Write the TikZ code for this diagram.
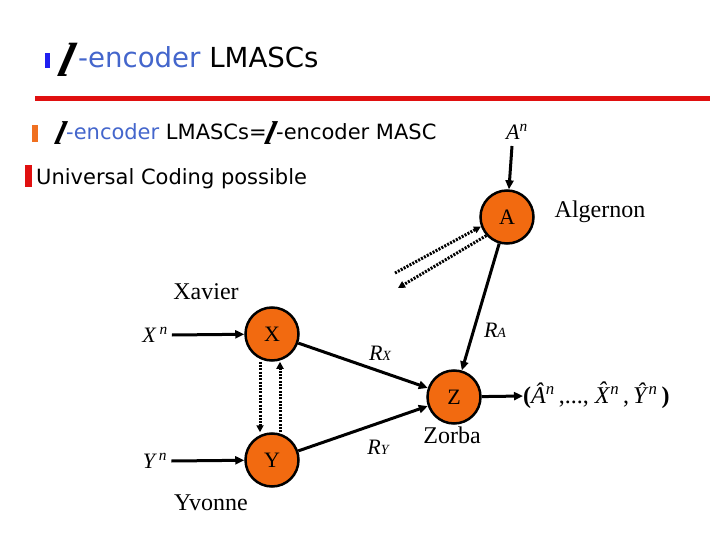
\documentclass[tikz,border=0pt]{standalone}
\usepackage{fontspec}
\setmainfont{Liberation Serif}
\newfontfamily\tah{DejaVu Sans}
\usetikzlibrary{arrows.meta}
\definecolor{orng}{HTML}{F26A10}
\definecolor{tblue}{HTML}{4466CC}
\definecolor{bblue}{HTML}{2020F0}
\definecolor{bred}{HTML}{E01010}
\definecolor{bor}{HTML}{F07020}
\newcommand\hatit[1]{\ooalign{\textit{#1}\cr\hidewidth\raisebox{0.2em}{\textit{\char"02C6}}\hidewidth\cr}}
\begin{document}
\begin{tikzpicture}[x=1pt,y=-1pt,
 party/.style={circle,draw=black,line width=2.5pt,fill=orng,minimum size=53pt,inner sep=0pt,font=\fontsize{22}{26}\selectfont},
 link/.style={line width=3pt,-{Triangle[length=9pt,width=8pt]}},
 dotl/.style={line width=3pt,dash pattern=on 2pt off 1.3pt,-{Triangle[length=7pt,width=7pt]}},
 lbl/.style={inner sep=0pt,font=\fontsize{24}{28}\selectfont},
 ml/.style={inner sep=0pt,font=\fontsize{22}{26}\selectfont\itshape},
 ell/.style={inner sep=0pt,anchor=base}]
\useasboundingbox (0,0) rectangle (720,540);
% title
\fill[bblue] (45,53) rectangle (50,68);
\node[ell,font=\fontsize{48}{48}\selectfont\bfseries\itshape,xslant=0.25] (l1) at (63,77) {l};
\node[anchor=base west,inner sep=0pt] (title) at (78,68) {\tah\fontsize{27.6}{32}\selectfont\color{tblue}-encoder \color{black}LMASCs};
\fill[bred] (35,96) rectangle (710,101);
% line 2
\fill[bor] (32,125) rectangle (38,142);
\node[ell,font=\fontsize{33}{33}\selectfont\bfseries\itshape,xslant=0.25] (l2) at (58,145) {l};
\node[anchor=base west,inner sep=0pt] (t2a) at (66,140) {\tah\fontsize{21}{25}\selectfont\color{tblue}-encoder \color{black}LMASCs=};
\node[ell,font=\fontsize{33}{33}\selectfont\bfseries\itshape,xslant=0.25] (l3) at (268,145) {l};
\node[anchor=base west,inner sep=0pt] (t2b) at (276,140) {\tah\fontsize{21}{25}\selectfont -encoder MASC};
% line 3
\fill[bred] (25,165) rectangle (32,187);
\node[anchor=base west,inner sep=0pt] (t3) at (36,185) {\tah\fontsize{21}{25}\selectfont Universal Coding possible};
% nodes
\node[party] (A) at (507,217) {A};
\node[party] (X) at (272,334) {X};
\node[party] (Y) at (272,460) {Y};
\node[party] (Z) at (454,397) {Z};
% names
\node[lbl] (alg) at (600,212) {Algernon};
\node[lbl] (xav) at (206,292) {Xavier};
\node[lbl] (yvo) at (211,503) {Yvonne};
\node[lbl] (zor) at (452,435) {Zorba};
% inputs
\node[ml] (An) at (517,132) {A\textsuperscript{n}};
\node[ml] (Xn) at (155,335) {X\textsuperscript{ n}};
\node[ml] (Yn) at (155,461) {Y\textsuperscript{ n}};
\coordinate (Ain) at (512,146);
\draw[link] (Ain) -- (A);
\draw[link] (Xn.east) ++(4,0) coordinate (Xin) -- (X);
\draw[link] (Yn.east) ++(4,0) coordinate (Yin) -- (Y);
% links to Z
\draw[link] (A) -- (Z);
\draw[link] (X) -- (Z);
\draw[link] (Y) -- (Z);
\node[ml] (RA) at (495,330) {R{\fontsize{14}{15}\selectfont A}};
\node[ml] (RX) at (380,353) {R{\fontsize{14}{15}\selectfont X}};
\node[ml] (RY) at (378,447) {R{\fontsize{14}{15}\selectfont Y}};
% output
\node[anchor=west,inner sep=0pt,font=\fontsize{24}{28}\selectfont] (out) at (523,396) {\textbf{(}\textit{\^{A}}\textsuperscript{\textit{n}}\,,..., \hatit{X}\textsuperscript{\textit{n}}\,,\,\textit{\^{Y}}\textsuperscript{\textit{n}}\,\textbf{)}};
\draw[link] (Z) -- (out.west);
% dotted
\coordinate (d1) at (395,273);
\coordinate (d2) at (398,288);
\draw[dotl] (d1) -- (A.200);
\draw[dotl] (A.222) -- (d2);
\draw[dotl] ([xshift=-12pt]X.south) -- ([xshift=-12pt]Y.north);
\draw[dotl] ([xshift=8pt]Y.north) -- ([xshift=8pt]X.south);
\end{tikzpicture}
\end{document}
